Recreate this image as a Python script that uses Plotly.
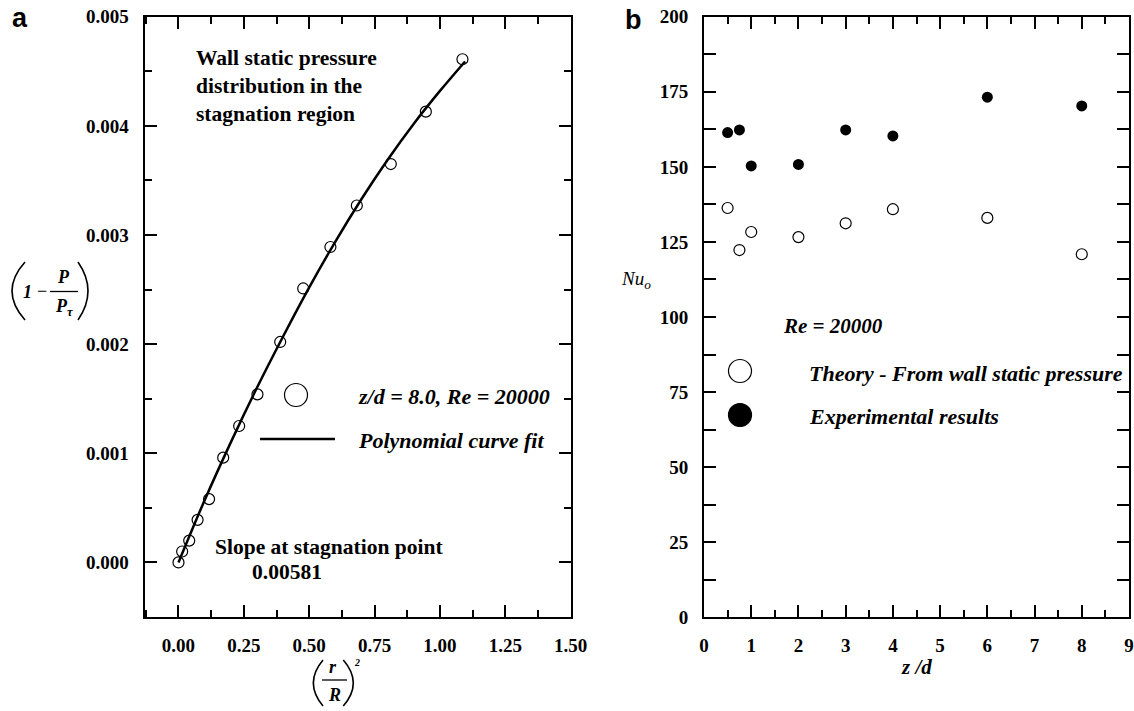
import plotly.graph_objects as go

W, H = 1134, 711


def X(p):
    return p / W


def Y(p):
    return 1 - p / H


# ---------------- Panel a data ----------------
r_over_R_sq = [0.0, 0.014, 0.041, 0.073, 0.117, 0.171, 0.232, 0.302, 0.389,
               0.477, 0.581, 0.682, 0.812, 0.946, 1.086]
pressure = [0.0, 0.00010, 0.00020, 0.00039, 0.00058, 0.00096, 0.00125, 0.00154,
            0.00202, 0.00251, 0.00289, 0.00327, 0.00365, 0.00413, 0.00461]
fit_x = [0.0, 0.1, 0.2, 0.3, 0.4, 0.5, 0.6, 0.7, 0.8, 0.9, 1.0, 1.096]
fit_y = [0.0, 0.00057, 0.00110, 0.00160, 0.00207, 0.00252, 0.00294, 0.00333,
         0.00369, 0.00402, 0.00432, 0.00459]

# ---------------- Panel b data ----------------
z_over_d = [0.5, 0.75, 1, 2, 3, 4, 6, 8]
nu_theory = [136.3, 122.3, 128.3, 126.6, 131.2, 135.9, 133.0, 120.9]
nu_experiment = [161.4, 162.3, 150.3, 150.8, 162.3, 160.3, 173.2, 170.3]

SERIF = "Liberation Serif"
SANS = "Liberation Sans"

fig = go.Figure()

fig.add_trace(go.Scatter(x=fit_x, y=fit_y, mode="lines", line=dict(color="black", width=2.5, shape="spline"),
                         xaxis="x", yaxis="y", showlegend=False))
fig.add_trace(go.Scatter(x=r_over_R_sq, y=pressure, mode="markers",
                         marker=dict(symbol="circle-open", size=11, color="black", line=dict(width=1.2)),
                         xaxis="x", yaxis="y", showlegend=False))
fig.add_trace(go.Scatter(x=z_over_d, y=nu_theory, mode="markers",
                         marker=dict(symbol="circle-open", size=11, color="black", line=dict(width=1.2)),
                         xaxis="x2", yaxis="y2", showlegend=False))
fig.add_trace(go.Scatter(x=z_over_d, y=nu_experiment, mode="markers",
                         marker=dict(symbol="circle", size=11, color="black"),
                         xaxis="x2", yaxis="y2", showlegend=False))

tickfont = dict(family=SERIF, size=19, color="black")
common = dict(showline=True, linewidth=2, linecolor="black", mirror="ticks", ticks="inside",
              tickwidth=2, tickcolor="black", ticklen=12, showgrid=False, zeroline=False,
              automargin=False, tickfont=tickfont, ticklabelstandoff=10,
              tickprefix="<b>", ticksuffix="</b>")

fig.update_layout(
    width=W, height=H, margin=dict(l=0, r=0, t=0, b=0, pad=0),
    paper_bgcolor="white", plot_bgcolor="white", showlegend=False,
    xaxis=dict(domain=[X(144.5), X(570.7)], range=[-0.13, 1.5], tick0=0, dtick=0.25, tickformat=".2f",
               minor=dict(ticks="inside", dtick=0.125, tick0=0, ticklen=7, tickwidth=2, tickcolor="black"),
               anchor="y", **common),
    yaxis=dict(domain=[Y(617), Y(16.7)], range=[-0.0005, 0.005], tick0=0, dtick=0.001, tickformat=".3f",
               minor=dict(ticks="inside", dtick=0.0005, tick0=0, ticklen=7, tickwidth=2, tickcolor="black"),
               anchor="x", **common),
    xaxis2=dict(domain=[X(704), X(1129)], range=[0, 9], tick0=0, dtick=1,
                minor=dict(ticks="inside", dtick=0.5, tick0=0, ticklen=7, tickwidth=2, tickcolor="black"),
                anchor="y2", **common),
    yaxis2=dict(domain=[Y(617.3), Y(16.7)], range=[0, 200], tick0=0, dtick=25,
                minor=dict(ticks="inside", dtick=12.5, tick0=0, ticklen=12, tickwidth=2, tickcolor="black"),
                anchor="x2", **common),
)

ann = []


def txt(x, y, text, size=18, bold=True, italic=False, family=SERIF, xanchor="center", yanchor="middle", align="center"):
    t = text
    if italic:
        t = "<i>" + t + "</i>"
    if bold:
        t = "<b>" + t + "</b>"
    ann.append(dict(x=X(x), y=Y(y), xref="paper", yref="paper", text=t, showarrow=False,
                    xanchor=xanchor, yanchor=yanchor, align=align, borderpad=0,
                    font=dict(family=family, size=size, color="black")))


shapes = []


def hline(x0, x1, y, w=1.5):
    shapes.append(dict(type="line", xref="paper", yref="paper", x0=X(x0), x1=X(x1), y0=Y(y), y1=Y(y),
                       line=dict(color="black", width=w)))


def paren(xe, xc, y0, y1, w=1.6):
    ym = (y0 + y1) / 2
    shapes.append(dict(type="path", xref="paper", yref="paper",
                       path=f"M {X(xe)},{Y(y0)} Q {X(xc)},{Y(ym)} {X(xe)},{Y(y1)}",
                       line=dict(color="black", width=w)))


# panel letters
txt(19.5, 18, "a", size=27, family=SANS)
txt(633, 20, "b", size=27, family=SANS)

# panel a texts
txt(195, 86, "Wall static pressure<br>distribution in the<br>stagnation region", size=21.5,
    xanchor="left", align="left")
txt(357, 396, "z/d = 8.0, Re = 20000", size=22, italic=True, xanchor="left")
txt(357, 440, "Polynomial curve fit", size=22, italic=True, xanchor="left")
txt(329, 547, "Slope at stagnation point", size=21.5)
txt(286.5, 572, "0.00581", size=21.5)

# panel a legend glyphs
shapes.append(dict(type="circle", xref="paper", yref="paper", x0=X(284.5), x1=X(307.5), y0=Y(383.5), y1=Y(406.5),
                   line=dict(color="black", width=1.2)))
hline(260, 335, 439, w=2.7)

# panel a y label: (1 - P/P_tau)
paren(25, -1, 262, 320)
paren(78, 98, 262, 320)
txt(27, 292, "1", size=18, italic=True)
txt(42, 291, "\u2212", size=18, bold=False)
hline(50, 78, 291.5, w=1.3)
txt(63, 277, "P", size=18, italic=True)
txt(64, 307, "P<sub>\u03c4</sub>", size=18, italic=True)

# panel a x label: (r/R)^2
paren(323, 303.7, 660, 706)
paren(343.3, 363.3, 660, 706)
hline(322, 347, 680, w=1.3)
txt(333, 667, "r", size=18, italic=True)
txt(334, 695, "R", size=18, italic=True)
txt(357, 662, "2", size=10, italic=True)

# panel b texts
txt(636, 280, "Nu<sub>o</sub>", size=19, bold=False, italic=True)
txt(833, 326, "Re = 20000", size=21, italic=True)
txt(808, 373, "Theory - From wall static pressure", size=22, italic=True, xanchor="left")
txt(808, 416, "Experimental results", size=22, italic=True, xanchor="left")
txt(916, 667, "z /d", size=21, italic=True)
shapes.append(dict(type="circle", xref="paper", yref="paper", x0=X(728.5), x1=X(751.5), y0=Y(359.5), y1=Y(382.5),
                   line=dict(color="black", width=1.2)))
shapes.append(dict(type="circle", xref="paper", yref="paper", x0=X(728.5), x1=X(751.5), y0=Y(403.5), y1=Y(426.5),
                   line=dict(color="black", width=1.2), fillcolor="black"))

fig.update_layout(annotations=ann, shapes=shapes)

fig.write_html("out.html")
